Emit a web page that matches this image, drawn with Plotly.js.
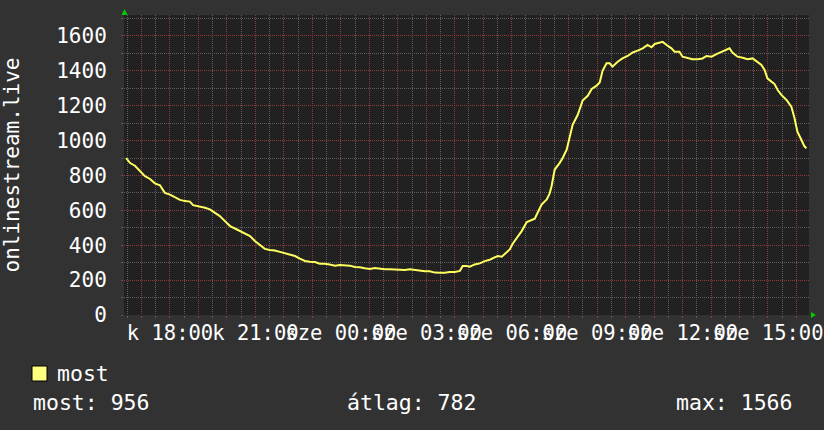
<!DOCTYPE html>
<html>
<head>
<meta charset="utf-8">
<script src="https://cdn.plot.ly/plotly-3.0.1.min.js"></script>
<style>
html,body{margin:0;padding:0;background:#323232;}
#chart{width:824px;height:430px;}
</style>
</head>
<body>
<div id="chart"></div>
<script>
// Time in hours since start of day 1 (values > 24 are the next day)
const timeHours = [16.46,16.60,16.77,16.95,17.12,17.30,17.47,17.65,17.82,18.00,18.18,18.35,18.53,18.70,18.81,19.05,19.23,19.40,19.58,19.75,19.93,20.11,20.28,20.46,20.63,20.81,20.98,21.16,21.33,21.51,21.68,21.86,22.04,22.21,22.39,22.56,22.74,22.91,23.09,23.26,23.44,23.61,23.79,23.96,24.14,24.32,24.49,24.67,24.84,25.02,25.19,25.37,25.54,25.72,25.89,26.07,26.25,26.42,26.60,26.77,26.95,27.12,27.30,27.47,27.65,27.82,28.00,28.18,28.28,28.42,28.53,28.70,28.88,29.05,29.23,29.40,29.51,29.65,29.75,29.93,30.04,30.18,30.35,30.53,30.70,30.81,30.91,31.05,31.23,31.33,31.40,31.51,31.68,31.79,31.93,32.03,32.14,32.32,32.49,32.67,32.81,32.98,33.09,33.19,33.33,33.44,33.54,33.72,33.89,34.07,34.25,34.42,34.60,34.77,34.91,35.02,35.19,35.30,35.44,35.61,35.72,35.89,36.00,36.18,36.35,36.53,36.70,36.84,37.02,37.19,37.37,37.54,37.65,37.75,37.93,38.11,38.28,38.46,38.63,38.77,38.88,38.98,39.12,39.23,39.34,39.47,39.65,39.82,39.93,40.03,40.17,40.28,40.35];
const viewers = [900,871,856,828,796,780,755,743,700,690,672,660,653,650,630,623,615,606,587,567,538,510,496,481,470,452,424,400,379,373,370,362,354,350,338,323,310,305,304,294,294,289,283,287,285,283,275,274,268,264,270,264,262,262,260,258,258,262,258,253,251,251,243,242,242,247,247,253,281,281,277,290,296,309,317,330,338,334,351,376,410,443,481,533,545,552,586,633,662,696,738,834,871,900,948,1015,1090,1148,1229,1257,1296,1315,1333,1400,1443,1443,1424,1452,1471,1485,1505,1516,1529,1548,1535,1554,1562,1566,1548,1529,1510,1510,1481,1471,1466,1466,1471,1485,1481,1496,1510,1524,1529,1505,1481,1475,1466,1471,1452,1433,1405,1357,1338,1324,1290,1262,1233,1195,1129,1052,1005,967,956];

const tickHours = [18,21,24,27,30,33,36,39];
const tickLabels = ['k 18:00','k 21:00','sze 00:00','sze 03:00','sze 06:00','sze 09:00','sze 12:00','sze 15:00'];
const yTicks = [0,200,400,600,800,1000,1200,1400,1600];
const seriesName = 'most';
const yTitle = 'onlinestream.live';
const statCurrent = 956;
const statAverage = 782;
const statMax = 1566;

const xRange = [16.385, 40.44];
const yRange = [0, 1720];

// hourly major grid, half-hour minor grid
const hourVals = [], hourText = [], halfVals = [];
for (let h = Math.ceil(xRange[0]); h <= xRange[1]; h++) {
  hourVals.push(h);
  const i = tickHours.indexOf(h);
  hourText.push(i >= 0 ? tickLabels[i] : '');
}
for (let h = Math.floor(xRange[0]) + 0.5; h <= xRange[1]; h += 1) {
  if (h >= xRange[0]) halfVals.push(h);
}
const yMinor = [];
for (let v = 100; v <= yRange[1]; v += 200) yMinor.push(v);

const FONT = 'DejaVu Sans Mono';
const MAJOR = '#8c3c3c';
const MINOR = '#5e5e5e';
const DASH = '1px,1px';

const trace = {
  x: timeHours, y: viewers, type: 'scatter', mode: 'lines',
  line: {color: '#ffff60', width: 2}, name: seriesName, showlegend: false,
  hoverinfo: 'skip'
};

const layout = {
  width: 824, height: 430,
  paper_bgcolor: '#323232', plot_bgcolor: '#212121',
  margin: {l: 124, r: 15, t: 15, b: 115},
  font: {family: FONT, size: 20.5, color: '#ffffff'},
  showlegend: false,
  xaxis: {
    range: xRange, tickmode: 'array', tickvals: hourVals, ticktext: hourText,
    tickangle: 0, showgrid: true, gridcolor: MAJOR, griddash: DASH, gridwidth: 1,
    ticks: 'outside', ticklen: 2, tickcolor: MAJOR, zeroline: false, showline: false,
    ticklabelstandoff: -3,
    tickfont: {family: FONT, size: 20.5, color: '#ffffff'},
    minor: {tickmode: 'array', tickvals: halfVals, showgrid: true, gridcolor: MINOR, griddash: DASH, ticks: 'outside', ticklen: 2, tickcolor: MINOR},
    fixedrange: true
  },
  yaxis: {
    range: yRange, tickmode: 'array', tickvals: yTicks,
    showgrid: true, gridcolor: MAJOR, griddash: DASH, gridwidth: 1,
    ticks: 'outside', ticklen: 2, tickcolor: MAJOR, zeroline: false, showline: false,
    ticklabelstandoff: 10,
    tickfont: {family: FONT, size: 21, color: '#ffffff'},
    title: {text: yTitle, font: {family: FONT, size: 21, color: '#ffffff'}, standoff: 34},
    minor: {tickmode: 'array', tickvals: yMinor, showgrid: true, gridcolor: MINOR, griddash: DASH, ticks: 'outside', ticklen: 2, tickcolor: MINOR},
    fixedrange: true
  },
  shapes: [
    // legend colour box
    {type: 'rect', xref: 'paper', yref: 'paper', xsizemode: 'pixel', ysizemode: 'pixel',
     xanchor: 0, yanchor: 0, x0: -92, x1: -77, y0: -51, y1: -66,
     fillcolor: '#ffff80', line: {color: '#000000', width: 1}},
    // green arrow at top of y axis
    {type: 'path', xref: 'paper', yref: 'paper', xsizemode: 'pixel', ysizemode: 'pixel',
     xanchor: 0, yanchor: 1, path: 'M -2.5 0 L 3.5 0 L 0.5 6 Z',
     fillcolor: '#00cc00', line: {width: 0}},
    // green arrow at right end of x axis
    {type: 'path', xref: 'paper', yref: 'paper', xsizemode: 'pixel', ysizemode: 'pixel',
     xanchor: 1, yanchor: 0, path: 'M 2 3 L 2 -3 L 7 0 Z',
     fillcolor: '#00cc00', line: {width: 0}}
  ],
  annotations: [
    {xref: 'paper', yref: 'paper', x: -69/685, y: -58.5/300, xanchor: 'left', yanchor: 'middle',
     text: seriesName, showarrow: false, font: {family: FONT, size: 21.5, color: '#ffffff'}},
    {xref: 'paper', yref: 'paper', x: -93/685, y: -87.5/300, xanchor: 'left', yanchor: 'middle',
     text: 'most: ' + statCurrent, showarrow: false, font: {family: FONT, size: 21.5, color: '#ffffff'}},
    {xref: 'paper', yref: 'paper', x: 221/685, y: -87.5/300, xanchor: 'left', yanchor: 'middle',
     text: 'átlag: ' + statAverage, showarrow: false, font: {family: FONT, size: 21.5, color: '#ffffff'}},
    {xref: 'paper', yref: 'paper', x: 550/685, y: -87.5/300, xanchor: 'left', yanchor: 'middle',
     text: 'max: ' + statMax, showarrow: false, font: {family: FONT, size: 21.5, color: '#ffffff'}}
  ]
};

Plotly.newPlot('chart', [trace], layout, {displayModeBar: false, staticPlot: true});
</script>
</body>
</html>
